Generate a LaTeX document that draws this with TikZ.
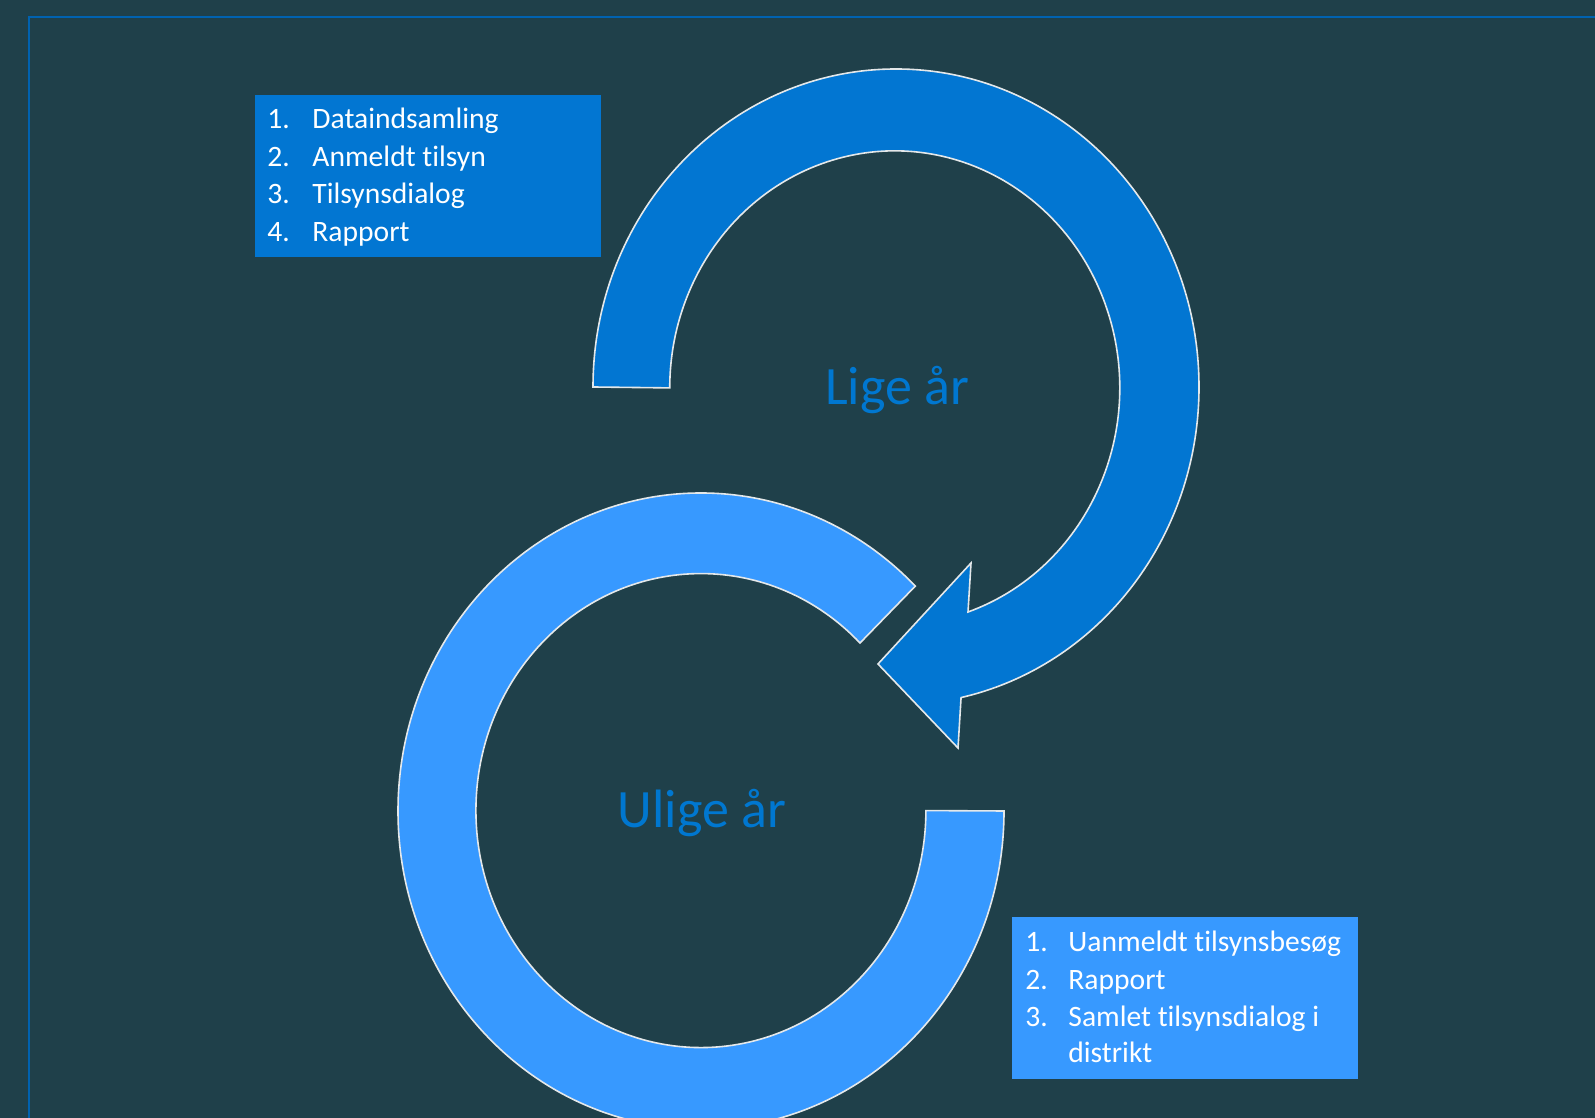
\documentclass[tikz,border=0pt]{standalone}
\usepackage{fontspec}
\setmainfont{Carlito}[Ligatures=NoCommon]
\definecolor{slatebg}{HTML}{1F404A}
\definecolor{frameblue}{HTML}{0062B0}
\definecolor{evenblue}{HTML}{0276D2}
\definecolor{oddblue}{HTML}{3799FF}
\definecolor{yearblue}{HTML}{0077D0}
\definecolor{bandedge}{HTML}{E4E8EA}

\begin{document}
\begin{tikzpicture}
    [%
        x=0.5pt,y=0.5pt,%
        list box/.style={%
            fill=#1,%
            inner sep=0pt,%
            minimum width=173pt,%
            minimum height=81pt%
        },%
        list text/.style={%
            anchor=base west,%
            inner sep=0pt,%
            text=white,%
            font=\fontsize{14.8pt}{18pt}\selectfont%
        },%
        year label/.style={%
            anchor=base,%
            inner sep=0pt,%
            text=yearblue,%
            font=\fontsize{27pt}{30pt}\selectfont%
        },%
        cycle band/.style={%
            fill=#1,%
            draw=bandedge,%
            line width=0.8pt%
        }%
    ]%
%
    % page, background and frame line
    \fill[slatebg] (0,0) rectangle (1595,1118);
    \useasboundingbox (0,0) rectangle (1595,1118);
    \clip (0,0) rectangle (1595,1118);
    \draw[frameblue,line width=1pt] (29,0) -- (29,1101) -- (1595,1101);
%
    % even year cycle: band from the left end, clockwise, ending in the arrow
    \draw[cycle band=evenblue] (593,731)
        arc[start angle=180,end angle=-77.6,x radius=303,y radius=318]
        -- (958,370) -- (878,454) -- (971,555) -- (968,506)
        arc[start angle=-71,end angle=180,x radius=225,y radius=237]
        -- cycle;
%
    % odd year cycle: band from the right end, clockwise, cut at 45 degrees
    \draw[cycle band=oddblue] (1004,307)
        arc[start angle=0,end angle=-315,x radius=303,y radius=318]
        -- (860,475)
        arc[start angle=45,end angle=360,x radius=225,y radius=237]
        -- cycle;
%
    % year labels
    \node[year label] (lige-label) at (897,713) {Lige år};
    \node[year label] (ulige-label) at (702,290) {Ulige år};
%
    % list of the even year
    \node[list box=evenblue] (lige-list) at (428,942) {};
    % \no item number
    % \item item text
    \foreach \no/\item in {%
        1/Dataindsamling,%
        2/Anmeldt tilsyn,%
        3/Tilsynsdialog,%
        4/Rapport%
    }{
        \node[list text] (lige-list-\no-no) at (267,{1026.5-37.5*\no}) {\no.};
        \node[list text] (lige-list-\no) at (312,{1026.5-37.5*\no}) {\item};
    } % \foreach \no/\item
%
    % list of the odd year
    \node[list box=oddblue] (ulige-list) at (1184.5,120) {};
    \foreach \no/\item in {%
        1/Uanmeldt tilsynsbesøg,%
        2/Rapport,%
        3/Samlet tilsynsdialog i%
    }{
        \node[list text] (ulige-list-\no-no) at (1025,{203.3-37.3*\no}) {\no.};
        \node[list text] (ulige-list-\no) at (1068,{203.3-37.3*\no}) {\item};
    } % \foreach \no/\item
    \node[list text] (ulige-list-3-cont) at (1068,55) {distrikt};
\end{tikzpicture}
\end{document}
